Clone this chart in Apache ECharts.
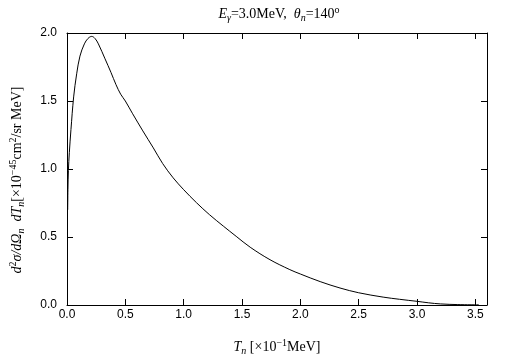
<!DOCTYPE html>
<html>
<head>
<meta charset="utf-8">
<script src="https://cdn.jsdelivr.net/npm/echarts@6/dist/echarts.min.js"></script>
<style>html,body{margin:0;padding:0;background:#fff}#c{width:505px;height:361px}</style>
</head>
<body>
<div id="c"></div>
<script>
var tn = [0.006, 0.008, 0.012, 0.02, 0.034, 0.057, 0.083, 0.111, 0.149, 0.18, 0.212, 0.24, 0.269, 0.326, 0.377, 0.42, 0.46, 0.50, 0.56, 0.65, 0.74, 0.82, 0.91, 1.0, 1.11, 1.22, 1.34, 1.45, 1.57, 1.74, 1.91, 2.0, 2.17, 2.34, 2.5, 2.71, 2.85, 3.0, 3.1, 3.2, 3.35, 3.53];
var xsec = [0.70, 0.85, 0.99, 1.12, 1.29, 1.53, 1.70, 1.83, 1.92, 1.96, 1.975, 1.96, 1.92, 1.81, 1.71, 1.62, 1.55, 1.50, 1.41, 1.28, 1.155, 1.04, 0.935, 0.848, 0.752, 0.665, 0.58, 0.505, 0.425, 0.333, 0.26, 0.228, 0.172, 0.125, 0.09, 0.058, 0.042, 0.027, 0.016, 0.008, 0.003, 0.001];
var xTicks = [0, 3.6, 0.5];
var yTicks = [0, 2.0, 0.5];

var chart = echarts.init(document.getElementById('c'));
var serif = '"Liberation Serif", "DejaVu Serif", serif';
var sans = '"Liberation Sans", Arial, sans-serif';
var rich = {
  n: {fontFamily: serif, fontSize: 14, color: '#000', lineHeight: 18},
  i: {fontFamily: serif, fontSize: 14, fontStyle: 'italic', color: '#000', lineHeight: 18},
  sub: {fontFamily: serif, fontSize: 10, fontStyle: 'italic', color: '#000', lineHeight: 18, verticalAlign: 'bottom', padding: [6, 0, 0, 0]},
  sup: {fontFamily: serif, fontSize: 10, color: '#000', lineHeight: 18, verticalAlign: 'top', padding: [0, 0, 6, 0]}
};
var data = tn.map(function (v, k) { return [v, xsec[k]]; });

function axisCommon(show) {
  return {
    axisLine: {show: true, onZero: false, lineStyle: {color: '#000', width: 1}},
    axisTick: {show: true, inside: true, length: 6, lineStyle: {color: '#000', width: 1}},
    splitLine: {show: false},
    axisLabel: {show: show, color: '#000', fontFamily: sans, fontSize: 12,
      formatter: function (v) { return v.toFixed(1); }}
  };
}
var xa = Object.assign({type: 'value', min: xTicks[0], max: xTicks[1], interval: xTicks[2], position: 'bottom'}, axisCommon(true));
xa.axisLabel.margin = 4; xa.axisLabel.showMaxLabel = false;
var xb = Object.assign({type: 'value', min: xTicks[0], max: xTicks[1], interval: xTicks[2], position: 'top'}, axisCommon(false));
var ya = Object.assign({type: 'value', min: yTicks[0], max: yTicks[1], interval: yTicks[2], position: 'left'}, axisCommon(true));
ya.axisLabel.margin = 10;
var yb = Object.assign({type: 'value', min: yTicks[0], max: yTicks[1], interval: yTicks[2], position: 'right'}, axisCommon(false));

chart.setOption({
  animation: false,
  backgroundColor: '#fff',
  grid: {left: 67, right: 18, top: 33, bottom: 56},
  xAxis: [xa, xb],
  yAxis: [ya, yb],
  series: [{
    type: 'line', xAxisIndex: 0, yAxisIndex: 0, data: data, smooth: 0.35,
    showSymbol: false, lineStyle: {color: '#000', width: 1}
  }],
  graphic: [
    {type: 'text', x: 279, y: 14, style: {
      text: '{i|E}{sub|γ}{n|=3.0MeV,  }{i|θ}{sub|n}{n|=140}{sup|o}', rich: rich,
      align: 'center', verticalAlign: 'middle'}},
    {type: 'text', x: 277, y: 347, style: {
      text: '{i|T}{sub|n}{n| [×10}{sup|−1}{n|MeV]}', rich: rich,
      align: 'center', verticalAlign: 'middle'}},
    {type: 'text', x: 17, y: 180, rotation: Math.PI / 2, style: {
      text: '{i|d}{sup|2}{i|σ/dΩ}{sub|n}{i|  dT}{sub|n}{n|[×10}{sup|−45}{n|cm}{sup|2}{n|/sr MeV]}', rich: rich,
      align: 'center', verticalAlign: 'middle'}}
  ]
});
</script>
</body>
</html>
